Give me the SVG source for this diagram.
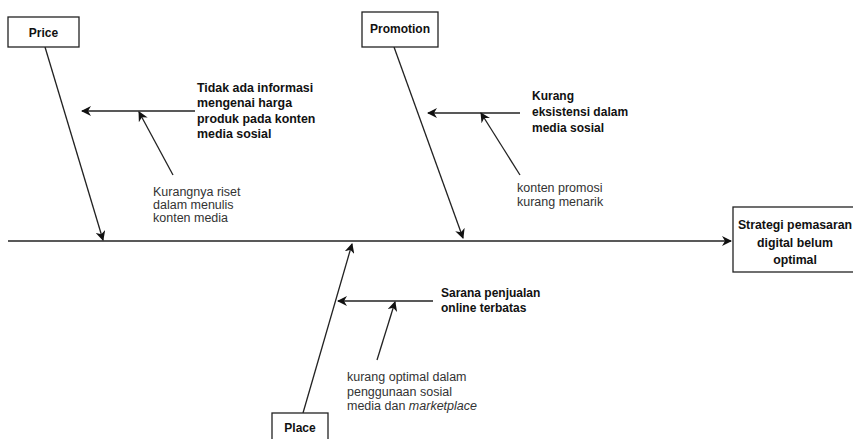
<svg xmlns="http://www.w3.org/2000/svg" width="853" height="439" viewBox="0 0 853 439">
<defs>
<marker id="ah" viewBox="0 0 10 10" refX="9" refY="5" markerWidth="10" markerHeight="10" markerUnits="userSpaceOnUse" orient="auto">
<path d="M0,0 L10,5 L0,10 L3,5 z" fill="#111"/>
</marker>
<style>
.box{fill:#fff;stroke:#222;stroke-width:1.3}
.ln{fill:none;stroke:#222;stroke-width:1.3;marker-end:url(#ah)}
.b{font-family:"Liberation Sans",Arial,sans-serif;font-size:12px;font-weight:bold;fill:#111}
.n{font-family:"Liberation Sans",Arial,sans-serif;font-size:12.5px;fill:#333}
</style>
</defs>
<rect width="853" height="439" fill="#fff"/>
<g id="connectors">
<line class="ln" x1="8" y1="241" x2="731" y2="241" style="stroke-width:1.5"/>
<line class="ln" x1="45" y1="47" x2="103" y2="240"/>
<line class="ln" x1="195" y1="111" x2="82" y2="111"/>
<line class="ln" x1="173" y1="175" x2="139" y2="112"/>
<line class="ln" x1="394" y1="47" x2="463" y2="238"/>
<line class="ln" x1="520" y1="113" x2="428" y2="113"/>
<line class="ln" x1="520" y1="175" x2="481" y2="113"/>
<line class="ln" x1="303" y1="413" x2="352" y2="244"/>
<line class="ln" x1="433" y1="301" x2="338" y2="301"/>
<line class="ln" x1="377" y1="360" x2="395" y2="302"/>
</g>
<g id="price">
<rect class="box" x="8" y="17" width="71" height="30"/>
<text class="b" x="43.5" y="36.5" text-anchor="middle">Price</text>
</g>
<g id="promotion">
<rect class="box" x="362" y="12" width="76" height="35"/>
<text class="b" x="400" y="33" text-anchor="middle">Promotion</text>
</g>
<g id="place">
<rect class="box" x="272" y="413" width="56" height="30"/>
<text class="b" x="300" y="432" text-anchor="middle">Place</text>
</g>
<g id="effect">
<rect class="box" x="733" y="207" width="124" height="65"/>
<text class="b" text-anchor="middle" style="font-size:12.3px"><tspan x="795" y="229">Strategi pemasaran</tspan><tspan x="795" y="246.5">digital belum</tspan><tspan x="795" y="264">optimal</tspan></text>
</g>
<g id="price-cause">
<text class="b" style="font-size:12.4px"><tspan x="197" y="91.5">Tidak ada informasi</tspan><tspan x="197" y="107">mengenai harga</tspan><tspan x="197" y="122.5">produk pada konten</tspan><tspan x="197" y="137.5">media sosial</tspan></text>
</g>
<g id="price-sub">
<text class="n"><tspan x="153" y="196">Kurangnya riset</tspan><tspan x="153" y="209">dalam menulis</tspan><tspan x="153" y="222">konten media</tspan></text>
</g>
<g id="promotion-cause">
<text class="b"><tspan x="532" y="99.5">Kurang</tspan><tspan x="532" y="116">eksistensi dalam</tspan><tspan x="532" y="131.5">media sosial</tspan></text>
</g>
<g id="promotion-sub">
<text class="n"><tspan x="517" y="192">konten promosi</tspan><tspan x="517" y="206">kurang menarik</tspan></text>
</g>
<g id="place-cause">
<text class="b"><tspan x="441" y="297">Sarana penjualan</tspan><tspan x="441" y="312">online terbatas</tspan></text>
</g>
<g id="place-sub">
<text class="n"><tspan x="347" y="381">kurang optimal dalam</tspan><tspan x="347" y="396">penggunaan sosial</tspan><tspan x="347" y="410">media dan <tspan font-style="italic">marketplace</tspan></tspan></text>
</g>
</svg>
